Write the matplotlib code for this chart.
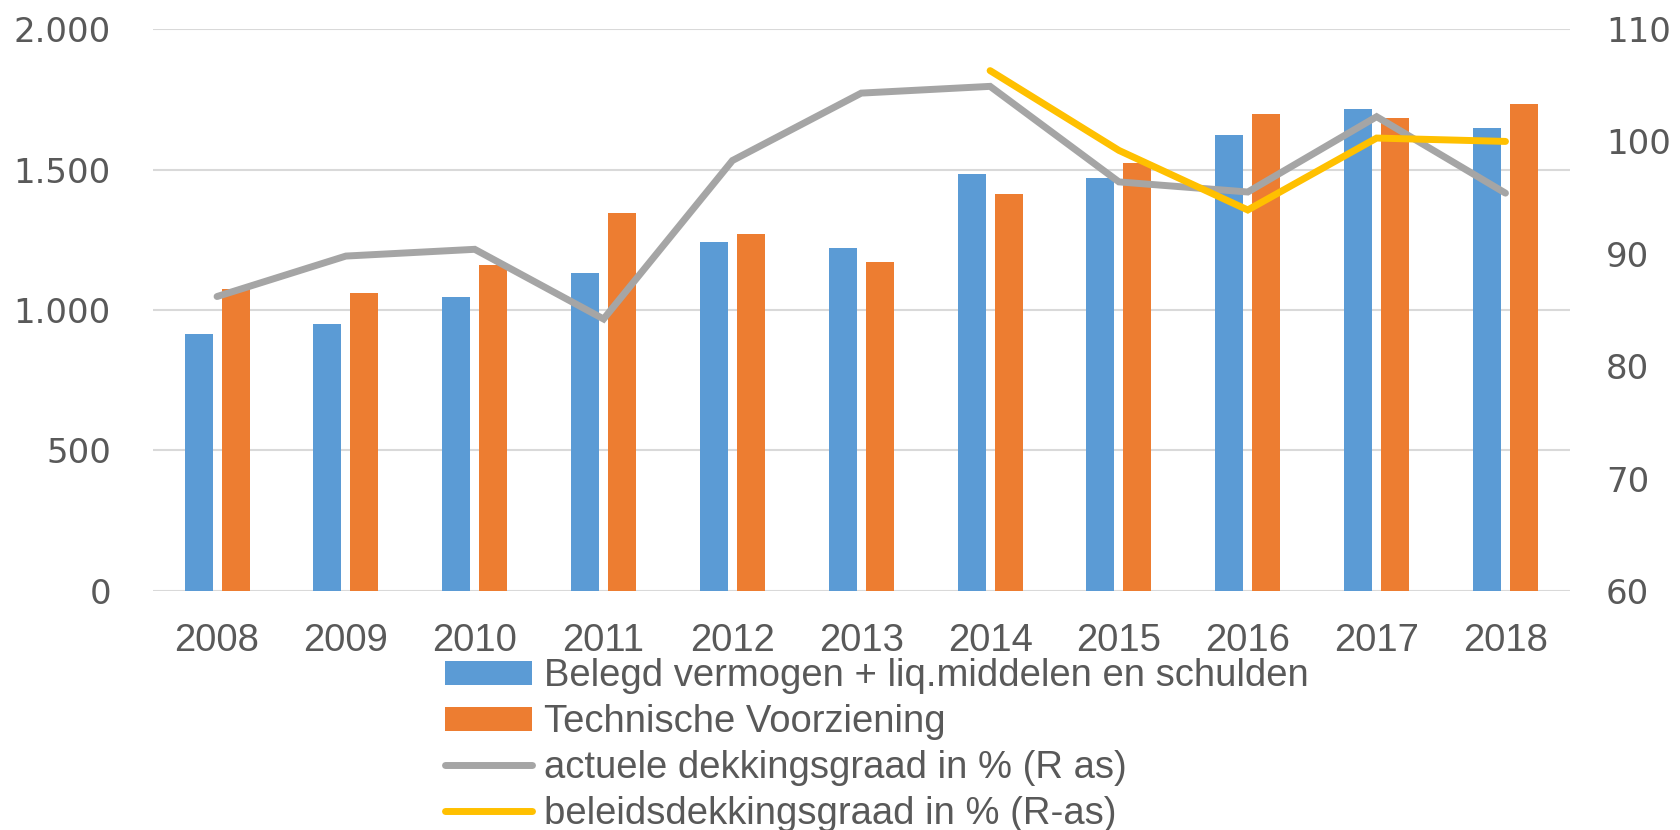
import matplotlib.pyplot as plt
import numpy as np


years = ["2008", "2009", "2010", "2011", "2012", "2013", "2014", "2015", "2016", "2017", "2018"]
belegd = [916, 950, 1048, 1130, 1242, 1220, 1483, 1469, 1622, 1717, 1649]
tv = [1073, 1062, 1159, 1344, 1269, 1172, 1413, 1525, 1698, 1683, 1733]
actueel = [86.2, 89.8, 90.4, 84.2, 98.3, 104.3, 104.9, 96.4, 95.5, 102.2, 95.4]
beleid = [np.nan, np.nan, np.nan, np.nan, np.nan, np.nan, 106.3, 99.2, 93.9, 100.3, 100.0]

left_ticks = [0, 500, 1000, 1500, 2000]
left_labels = ["0", "500", "1.000", "1.500", "2.000"]
right_ticks = [60, 70, 80, 90, 100, 110]

label_belegd = "Belegd vermogen + liq.middelen en schulden"
label_tv = "Technische Voorziening"
label_act = "actuele dekkingsgraad in % (R as)"
label_bel = "beleidsdekkingsgraad in % (R-as)"

blue = "#5B9BD5"
orange = "#ED7D31"
grey = "#A5A5A5"
yellow = "#FFC000"
text_col = "#595959"

fig = plt.figure(figsize=(16.81, 8.30), dpi=100)
ax = fig.add_axes([0.0908, 0.288, 0.8431, 0.677])
ax2 = ax.twinx()

x = np.arange(len(years))
w = 0.217
off = 0.1436
b1 = ax.bar(x - off, belegd, w, color=blue, zorder=2, label=label_belegd)
b2 = ax.bar(x + off, tv, w, color=orange, zorder=2, label=label_tv)

l1, = ax2.plot(x, actueel, color=grey, lw=5, solid_capstyle="round",
               solid_joinstyle="miter", label=label_act)
l2, = ax2.plot(x, beleid, color=yellow, lw=5, solid_capstyle="round",
               solid_joinstyle="miter", label=label_bel)

ax.set_xlim(-0.5, len(years) - 0.5)
ax.set_ylim(0, 2000)
ax2.set_ylim(60, 110)

ax.set_yticks(left_ticks)
ax.set_yticklabels(left_labels)
ax2.set_yticks(right_ticks)
ax.set_xticks(x)
ax.set_xticklabels(years, family="Liberation Sans", fontsize=27.5)

ax.yaxis.grid(True, color="#D9D9D9", lw=1.5, zorder=0)
ax.set_axisbelow(True)
for a in (ax, ax2):
    for s in a.spines.values():
        s.set_visible(False)
ax.tick_params(axis="x", length=0, pad=23, colors=text_col)
ax.tick_params(axis="y", length=0, pad=30, labelsize=24.5, colors=text_col)
ax2.tick_params(axis="y", length=0, pad=26, labelsize=24.5, colors=text_col)
for lab in ax.get_yticklabels() + ax2.get_yticklabels():
    lab.set_family("DejaVu Sans")

leg = fig.legend([b1, b2, l1, l2], [label_belegd, label_tv, label_act, label_bel],
                 loc="upper left", bbox_to_anchor=(0.2645, 0.207), frameon=False,
                 prop={"family": "Liberation Sans", "size": 27.5},
                 handlelength=2.3, handleheight=0.6, handletextpad=0.3,
                 labelspacing=0.26, borderpad=0, borderaxespad=0)
for t in leg.get_texts():
    t.set_color(text_col)

fig.savefig("out.png", dpi=100)
